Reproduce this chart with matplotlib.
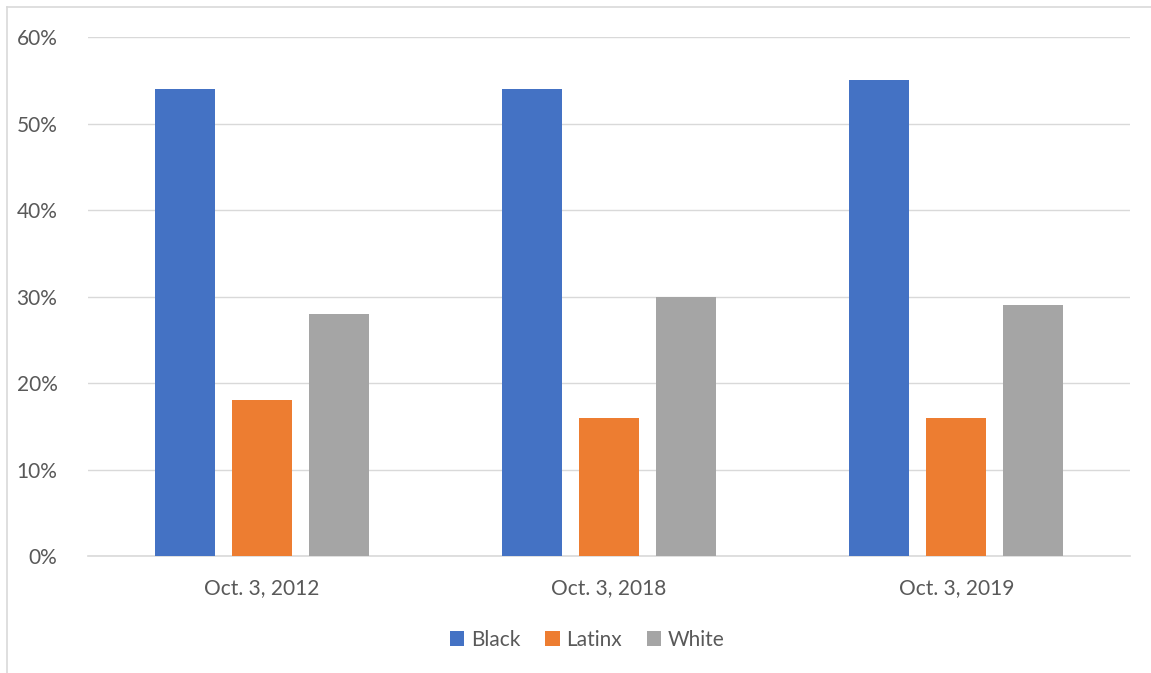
import numpy as np
import matplotlib.pyplot as plt
from matplotlib.lines import Line2D
from matplotlib import rcParams
rcParams['font.family'] = ['Lato', 'DejaVu Sans']
rcParams['font.size'] = 15

# data (percent)
dates = ['Oct. 3, 2012', 'Oct. 3, 2018', 'Oct. 3, 2019']
groups = ['Black', 'Latinx', 'White']
black = [54, 54, 55]
latinx = [18, 16, 16]
white = [28, 30, 29]
colors = ['#4472C4', '#ED7D31', '#A5A5A5']
yticks = [0, 10, 20, 30, 40, 50, 60]

fig = plt.figure(figsize=(11.51, 6.73), dpi=100)
ax = fig.add_axes([0.0765, 0.1738, 0.9053, 0.7712])

x = np.arange(len(dates))
w = 0.1728
off = 0.2217
for i, (vals, name) in enumerate(zip([black, latinx, white], groups)):
    ax.bar(x + (i - 1)*off, vals, w, color=colors[i], label=name, zorder=3)

ax.set_xlim(-0.5, 2.5)
ax.set_ylim(0, 60)
ax.set_yticks(yticks)
ax.set_yticklabels(['{}%'.format(v) for v in yticks])
ax.set_xticks(x)
ax.set_xticklabels(dates)
ax.grid(axis='y', color='#D9D9D9', linewidth=1, zorder=0)
for s in ['top', 'right', 'left']:
    ax.spines[s].set_visible(False)
ax.spines['bottom'].set_color('#D9D9D9')
ax.spines['bottom'].set_linewidth(1.2)
ax.tick_params(axis='both', length=0, colors='#595959', labelsize=15)
ax.tick_params(axis='y', pad=22)
ax.tick_params(axis='x', pad=16)

leg = fig.legend(loc='center', bbox_to_anchor=(587/1151, 1 - 640/673), ncol=3,
                 frameon=False, handlelength=0.7, handleheight=0.7,
                 handletextpad=0.3, columnspacing=1.2, fontsize=15)
for t in leg.get_texts():
    t.set_color('#595959')

# partial chart border like the screenshot
fig.add_artist(Line2D([7/1151, 7/1151], [0, 1 - 7/673], color='#D9D9D9', lw=1.2))
fig.add_artist(Line2D([7/1151, 1], [1 - 7/673, 1 - 7/673], color='#D9D9D9', lw=1.2))

fig.savefig('out.png', dpi=100)
